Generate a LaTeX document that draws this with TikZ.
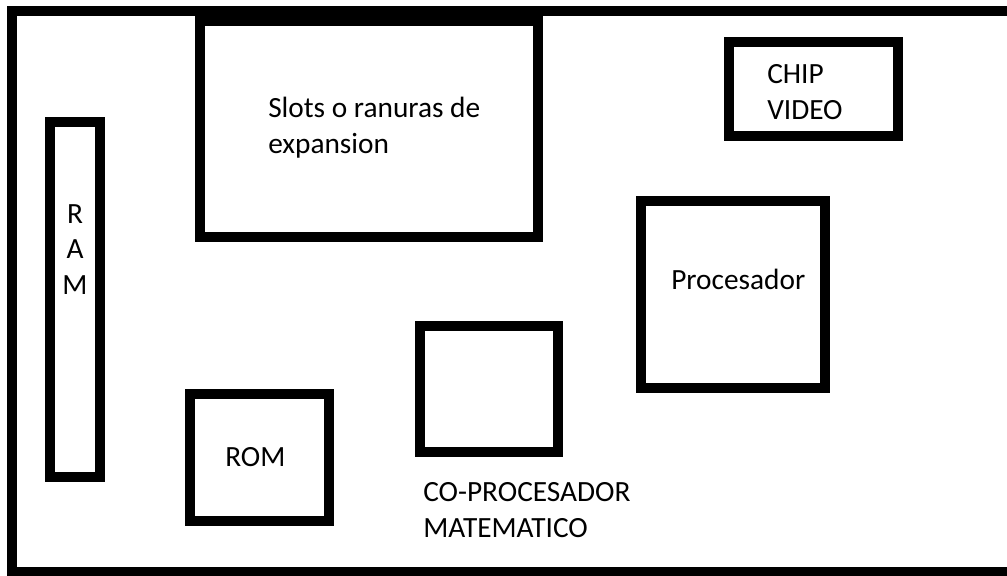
\documentclass[tikz,border=0pt]{standalone}
\usepackage{fontspec}
\setmainfont{Carlito}
\usepackage{tikz}
\usetikzlibrary{positioning}

\tikzset{
  part/.style={draw,line width=7.5pt,inner sep=0pt},
  lbl/.style={inner sep=0pt,align=left,font=\fontsize{22}{26.5}\selectfont}
}

\begin{document}
\begin{tikzpicture}[x=0.75pt,y=-0.75pt]
  \useasboundingbox (0,0) rectangle (1007,575);
  \clip (0,0) rectangle (1007,575);
  \fill[white] (0,0) rectangle (1007,575);
  % placa
  \node[part,minimum width=752.6pt,minimum height=420.4pt](board) at (513.25,291.75){};
  % componentes
  \node[part,minimum width=253.5pt,minimum height=162pt](slots) at (369,128.5){};
  \node[part,minimum width=126.75pt,minimum height=70.5pt](chip) at (813.5,89){};
  \node[part,minimum width=138pt,minimum height=140.6pt](proc) at (732.5,294.25){};
  \node[part,minimum width=103.5pt,minimum height=94.5pt](coproc) at (489,389){};
  \node[part,minimum width=104.25pt,minimum height=95.25pt](rom) at (259.5,457.5){};
  \node[part,minimum width=37.5pt,minimum height=266.25pt](ram) at (75,299.5){};
  % textos (base = ultima linea)
  \node[lbl,anchor=base west](slotstext) at (268,153){Slots o ranuras de\\expansion};
  \node[lbl,anchor=base west](chiptext) at (767,119){CHIP\\VIDEO};
  \node[lbl,anchor=base west](proctext) at (671,289){Procesador};
  \node[lbl,anchor=base west](romtext) at (225,466){ROM};
  \node[lbl,anchor=base west](coproctext) at (423,537){CO-PROCESADOR\\MATEMATICO};
  \node[lbl,align=center,anchor=base](ramtext) at (75,294){R\\A\\M};
\end{tikzpicture}
\end{document}
